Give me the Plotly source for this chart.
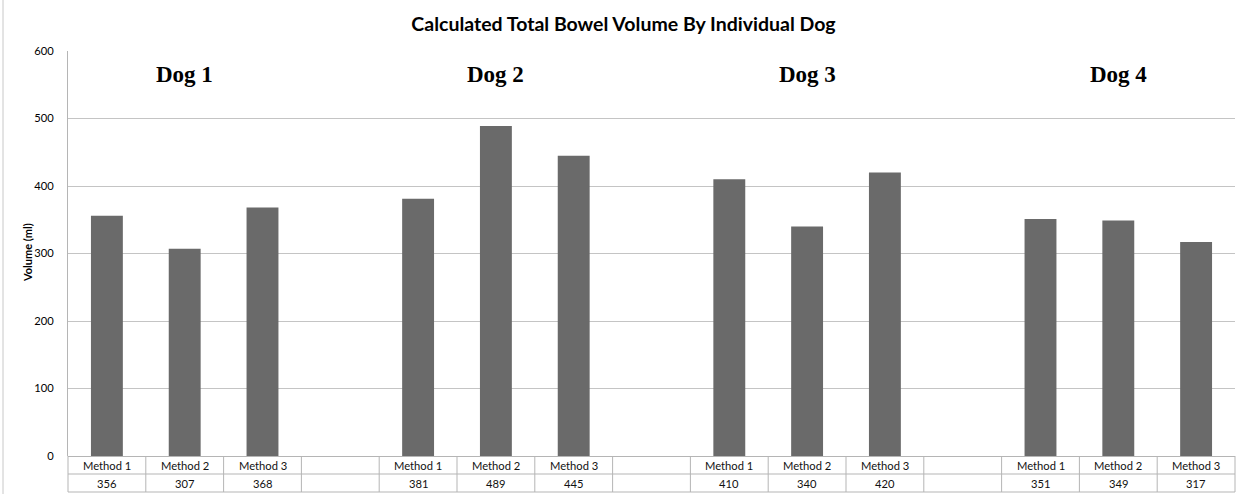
import plotly.graph_objects as go

# Bowel volume (ml) per dog, three measurement methods each
dogs = ["Dog 1", "Dog 2", "Dog 3", "Dog 4"]
methods = ["Method 1", "Method 2", "Method 3"]
dog1_volumes = [356, 307, 368]
dog2_volumes = [381, 489, 445]
dog3_volumes = [410, 340, 420]
dog4_volumes = [351, 349, 317]
y_ticks = [0, 100, 200, 300, 400, 500, 600]

volumes_by_dog = [dog1_volumes, dog2_volumes, dog3_volumes, dog4_volumes]

# Each dog takes 4 slots on the category axis: 3 methods + 1 empty spacer
SLOTS_PER_DOG = 4
n_slots = SLOTS_PER_DOG * len(dogs) - 1  # last spacer dropped

W, H = 1247, 494
M_L, M_R, M_T, M_B = 68, 12, 51, 38
plot_w = W - M_L - M_R
plot_h = H - M_T - M_B

BAR_COLOR = "#6a6a6a"
GRID_COLOR = "#c4c4c4"
LINE_COLOR = "#b5b5b5"
CAL_FONT = "Lato"

x_pos, y_val = [], []
for d, vols in enumerate(volumes_by_dog):
    for m, v in enumerate(vols):
        x_pos.append(d * SLOTS_PER_DOG + m)
        y_val.append(v)

fig = go.Figure(
    go.Bar(
        x=x_pos,
        y=y_val,
        width=0.41,
        marker=dict(color=BAR_COLOR, line=dict(width=0)),
        hoverinfo="x+y",
    )
)


def px_x(px):
    return (px - M_L) / plot_w


def px_y(px):
    return (H - M_B - px) / plot_h


def slot_x(s):
    return (s + 0.5) / n_slots


shapes = []
annotations = []

# Data table beneath the plot
row_top, row_mid, row_bot = 456, 474, 492
for yy in (row_mid, row_bot):
    shapes.append(dict(type="line", xref="paper", yref="paper",
                       x0=0, x1=1, y0=px_y(yy), y1=px_y(yy),
                       line=dict(color=LINE_COLOR, width=1)))
for b in range(n_slots + 1):
    xb = b / n_slots
    shapes.append(dict(type="line", xref="paper", yref="paper",
                       x0=xb, x1=xb, y0=px_y(row_top), y1=px_y(row_bot),
                       line=dict(color=LINE_COLOR, width=1)))

for d, vols in enumerate(volumes_by_dog):
    for m, v in enumerate(vols):
        s = d * SLOTS_PER_DOG + m
        annotations.append(dict(xref="paper", yref="paper", x=slot_x(s),
                                y=px_y(465.5), text=methods[m], showarrow=False,
                                xanchor="center", yanchor="middle",
                                font=dict(family=CAL_FONT, size=11.2, color="#111")))
        annotations.append(dict(xref="paper", yref="paper", x=slot_x(s),
                                y=px_y(483.5), text=str(v), showarrow=False,
                                xanchor="center", yanchor="middle",
                                font=dict(family=CAL_FONT, size=11.2, color="#111")))
    # Dog heading over each group
    annotations.append(dict(xref="paper", yref="paper",
                            x=slot_x(d * SLOTS_PER_DOG + 1), y=px_y(75),
                            text="<b>%s</b>" % dogs[d], showarrow=False,
                            xanchor="center", yanchor="middle",
                            font=dict(family="Liberation Serif", size=23, color="#000")))

# Y axis title
annotations.append(dict(xref="paper", yref="paper", x=px_x(27), y=px_y(253),
                        text="<b>Volume (ml)</b>", showarrow=False, textangle=-90,
                        xanchor="center", yanchor="middle",
                        font=dict(family=CAL_FONT, size=11, color="#000")))

# Outer chart frame (left edge)
shapes.append(dict(type="line", xref="paper", yref="paper",
                   x0=px_x(3), x1=px_x(3), y0=px_y(H), y1=px_y(0),
                   line=dict(color="#c8c8c8", width=1)))

fig.update_layout(
    width=W,
    height=H,
    margin=dict(l=M_L, r=M_R, t=M_T, b=M_B, pad=0),
    paper_bgcolor="white",
    plot_bgcolor="white",
    showlegend=False,
    title=dict(text="<b>Calculated Total Bowel Volume By Individual Dog</b>",
               x=0.5, xanchor="center", y=1 - 24 / H, yanchor="middle",
               font=dict(family=CAL_FONT, size=19.5, color="#000")),
    xaxis=dict(range=[-0.5, n_slots - 0.5], showticklabels=False, showgrid=False,
               zeroline=False, showline=False, fixedrange=True),
    yaxis=dict(range=[0, 600], tickvals=y_ticks, showgrid=True, gridcolor=GRID_COLOR,
               gridwidth=1, zeroline=True, zerolinecolor=LINE_COLOR, zerolinewidth=1,
               showline=True, linecolor=LINE_COLOR, linewidth=1,
               ticks="", ticklabelstandoff=11,
               tickfont=dict(family=CAL_FONT, size=11.2, color="#000")),
    shapes=shapes,
    annotations=annotations,
)

fig.write_html("out.html")
